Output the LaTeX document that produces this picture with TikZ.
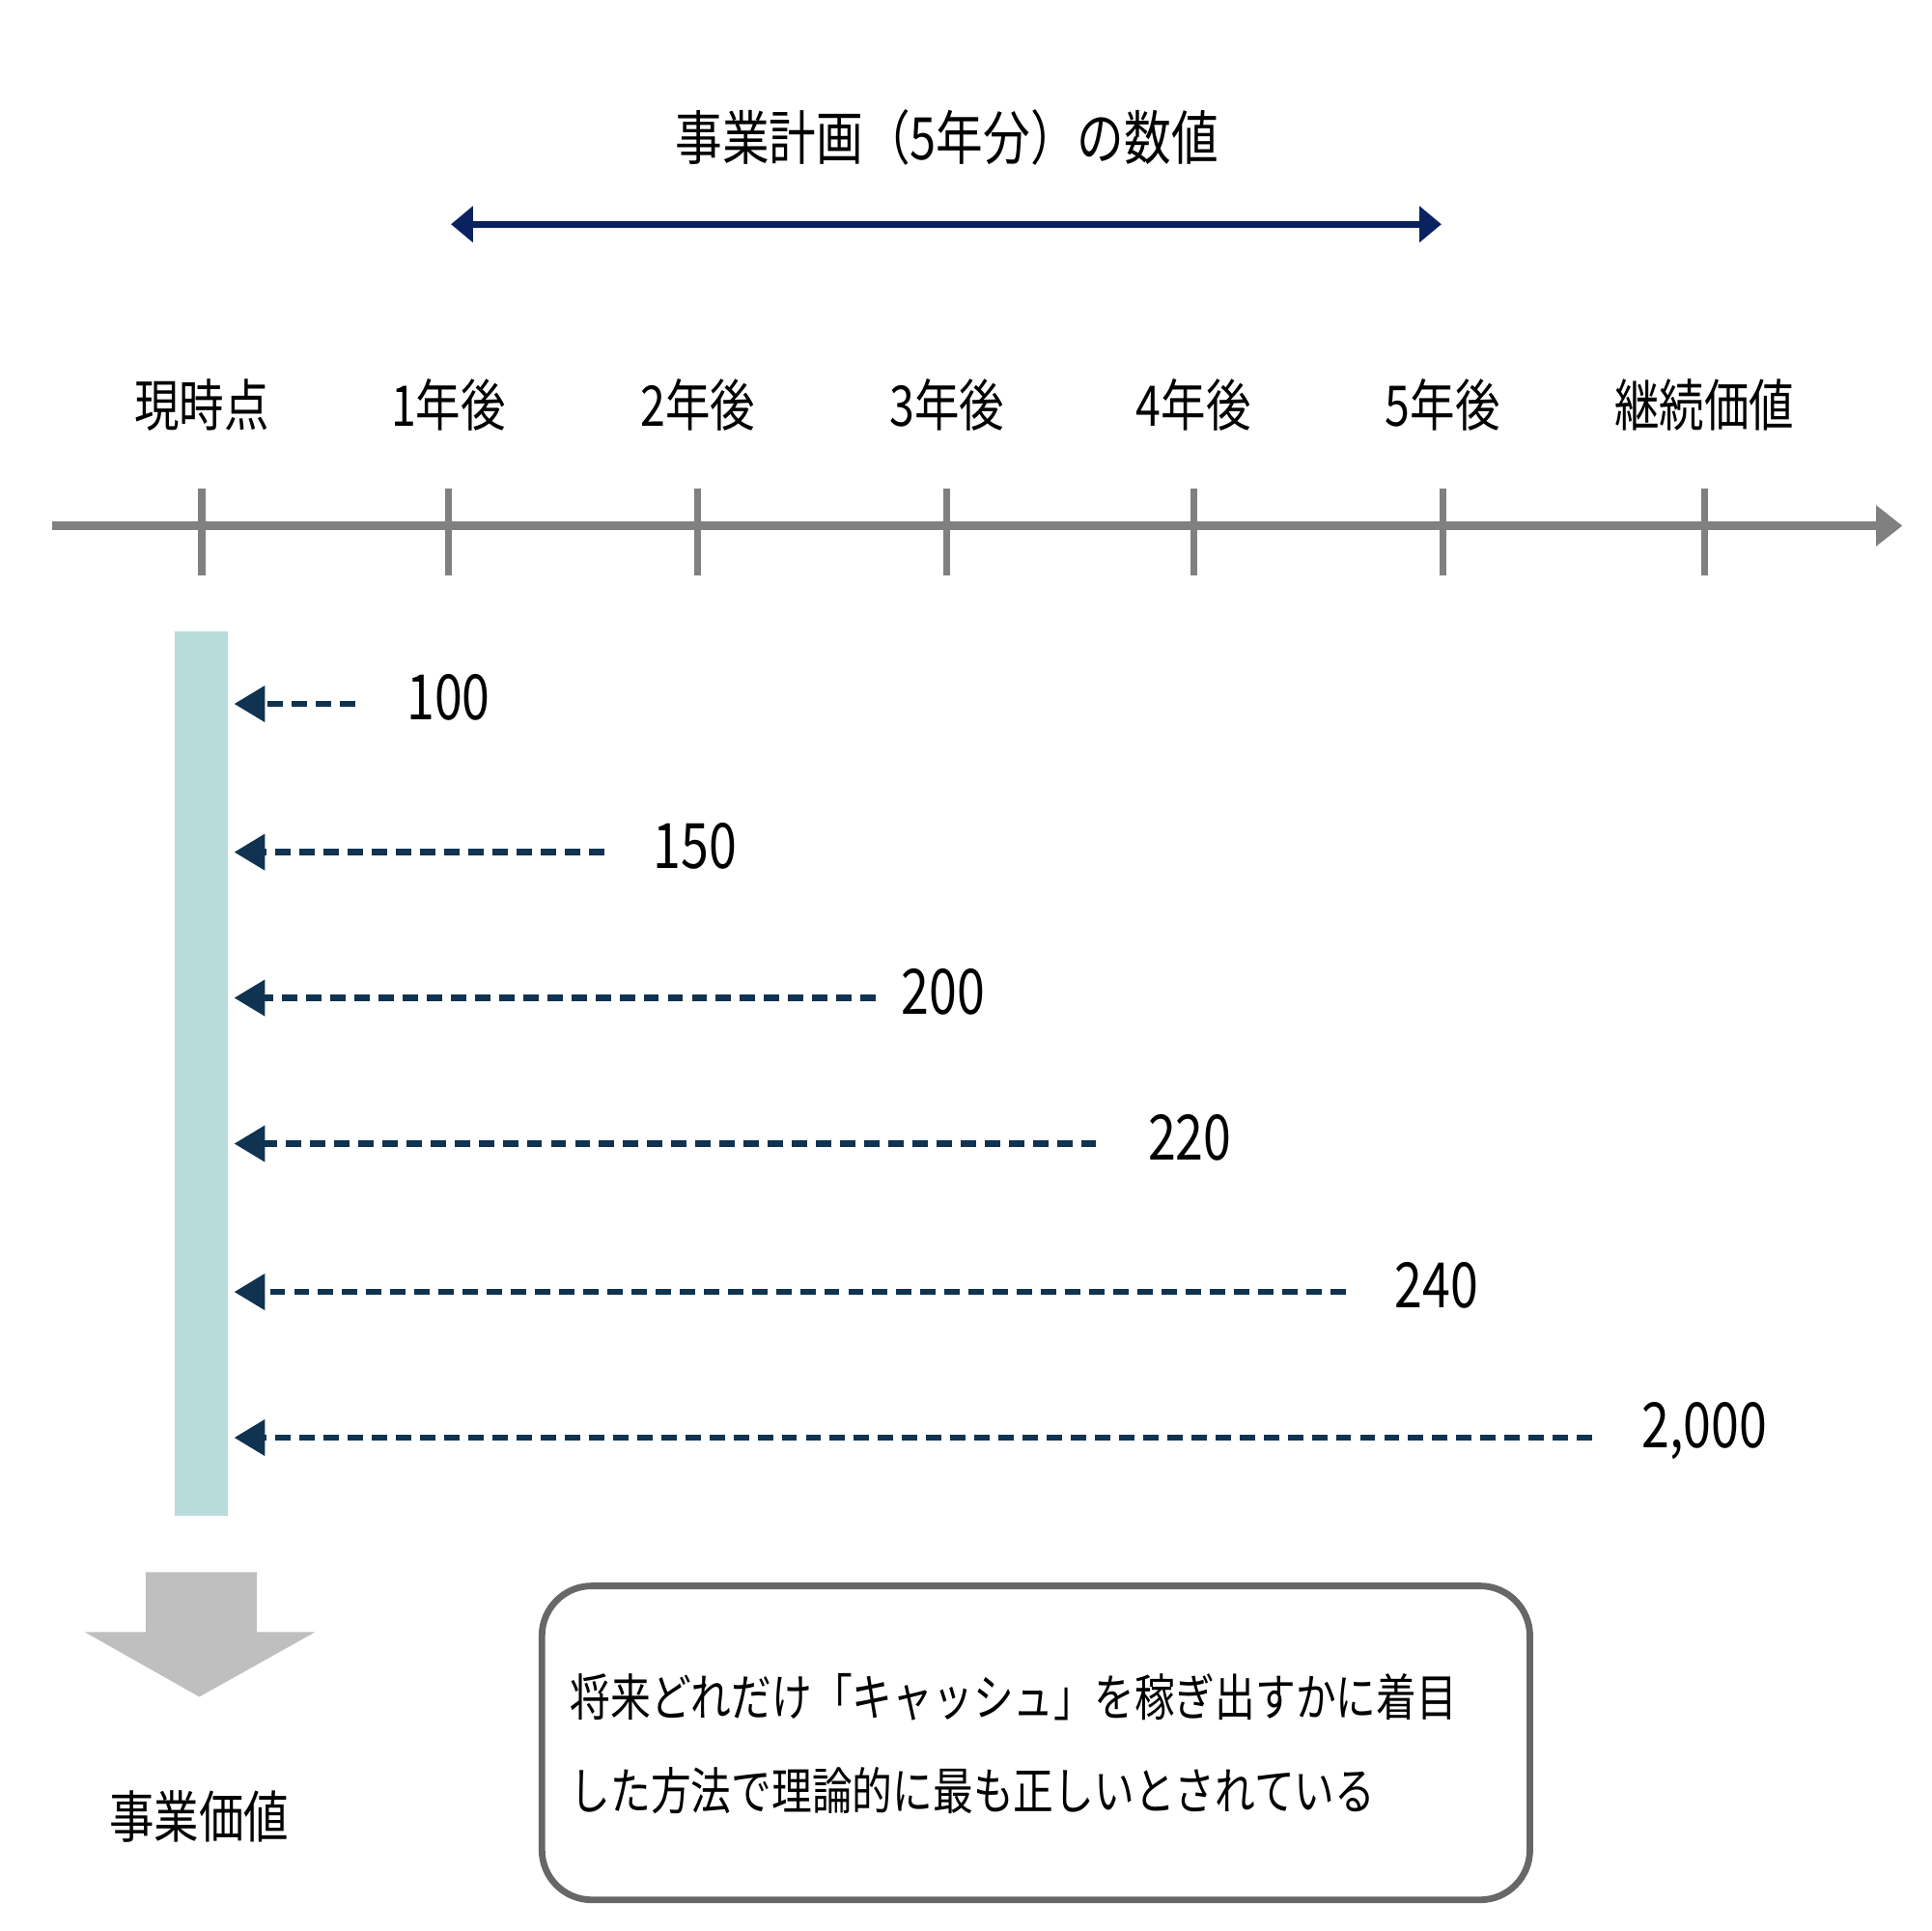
\documentclass[tikz,border=0pt]{standalone}
\usepackage{fontspec}
\setmainfont[FakeStretch=0.8]{Noto Sans CJK JP}
\usetikzlibrary{arrows.meta}
\definecolor{navy}{HTML}{0B2260}
\definecolor{dnavy}{HTML}{0F3350}
\definecolor{teal}{HTML}{B7DCDA}
\definecolor{axis}{HTML}{808080}
\tikzset{
 lbl/.style={font=\fontsize{12.8}{15}\selectfont, inner sep=0pt},
 ttl/.style={font=\fontsize{13.4}{16}\selectfont, inner sep=0pt},
 box/.style={font=\fontsize{11.5}{14}\selectfont, inner sep=0pt},
 num/.style={font=\fontsize{14.3}{17}\selectfont, inner sep=0pt},
 tick/.style={axis, line width=1.6pt},
 darr/.style={dnavy, dash pattern=on 3.5pt off 2pt, line width=1.4pt, -{Triangle[length=7pt,width=8pt]}}
}
\begin{document}
\begin{tikzpicture}[x=0.01cm,y=-0.01cm]
\useasboundingbox (0,0) rectangle (1550,1550);
\node[ttl] (title) at (760,110) {事業計画（5年分）の数値};
\coordinate (pa) at (362,180); \coordinate (pb) at (1157,180);
\draw[navy, line width=1.5pt, {Triangle[length=5pt,width=8pt]}-{Triangle[length=5pt,width=8pt]}] (pa) -- (pb);
\coordinate (ax0) at (42,422); \coordinate (ax1) at (1527,422);
\draw[axis, line width=2pt, -{Triangle[length=6pt,width=9pt]}] (ax0) -- (ax1);
\foreach \x/\t [count=\i] in {162/現時点,360/1年後,560/2年後,760/3年後,958/4年後,1158/5年後,1368/継続価値}{
 \node[lbl] (t\i) at (\x,325) {\t};
 \draw[tick] (\x,392) -- (\x,462);
}
\fill[teal] (140,507) rectangle (183,1217);
\foreach \y/\e/\lx/\v [count=\i] in {565/285/360/100,684/485/558/150,801/703/757/200,918/880/955/220,1037/1080/1153/240,1154/1278/1368/{2,000}}{
 \coordinate (s\i) at (\e,\y); \coordinate (e\i) at (188,\y);
 \draw[darr] (s\i) -- (e\i);
 \node[num] (n\i) at (\lx,\y-5) {\v};
}
\fill[gray!50] (117,1262) -- (206,1262) -- (206,1310) -- (253,1310) -- (160,1362) -- (68,1310) -- (117,1310) -- cycle;
\node[lbl] (ev) at (160,1458) {事業価値};
\draw[axis!80!black, line width=1.5pt, rounded corners=0.4cm] (435,1273) rectangle (1228,1525);
\node[box, anchor=west] (l1) at (457,1362) {将来どれだけ「キャッシュ」を稼ぎ出すかに着目};
\node[box, anchor=west] (l2) at (457,1437) {した方法で理論的に最も正しいとされている};
\end{tikzpicture}
\end{document}
